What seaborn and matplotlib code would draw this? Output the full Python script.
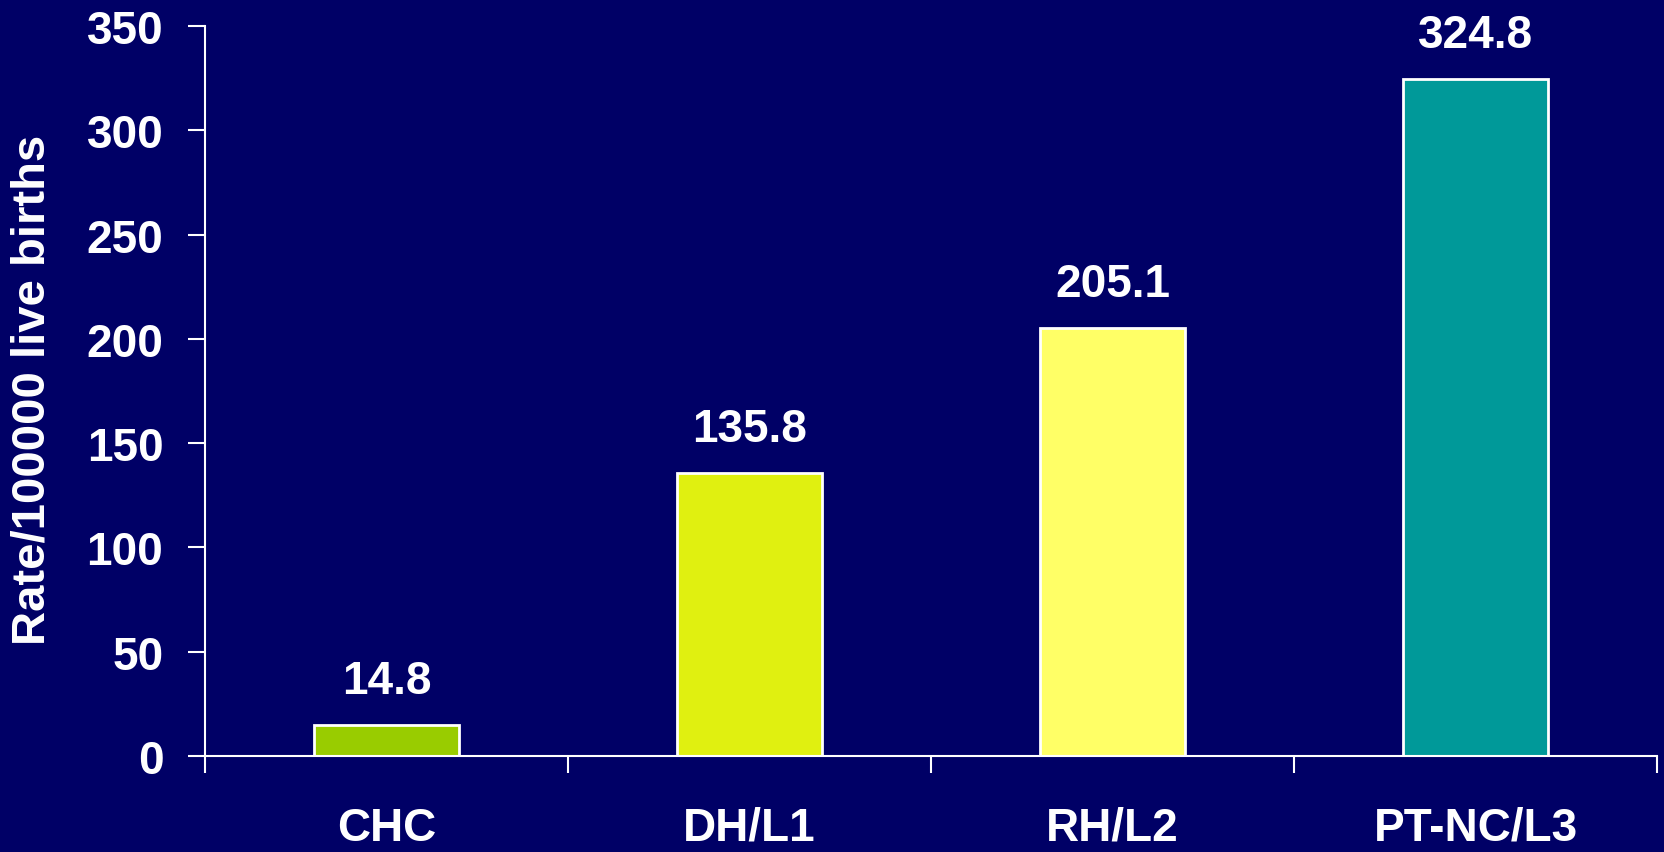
import pandas as pd
import matplotlib.pyplot as plt
import seaborn as sns
from matplotlib.ticker import FixedLocator

categories = ["CHC", "DH/L1", "RH/L2", "PT-NC/L3"]
rates = [14.8, 135.8, 205.1, 324.8]
colors = ["#99CC00", "#E0F010", "#FFFF66", "#009999"]

bg = "#000066"

sns.set_theme(style="white")
plt.rcParams['font.family'] = ['Liberation Sans', 'DejaVu Sans']
plt.rcParams['font.weight'] = 'bold'

df = pd.DataFrame({"Area": categories, "Rate": rates})

fig = plt.figure(figsize=(16.65, 8.53), dpi=100, facecolor=bg)
ax = fig.add_axes([205 / 1665, 1 - 757 / 853, 1452 / 1665, 730 / 853])
ax.set_facecolor(bg)

sns.barplot(data=df, x="Area", y="Rate", hue="Area", palette=colors,
            width=0.4, edgecolor="white", linewidth=2, legend=False, ax=ax,
            saturation=1)

ax.set_xlim(-0.5, 3.5)
ax.set_ylim(0, 350)
ax.set_yticks(range(0, 351, 50))

# value labels above bars
for i, v in enumerate(rates):
    ax.annotate(f"{v}", (i, v), xytext=(0, 23), textcoords="offset points",
                ha="center", va="baseline", color="white", fontsize=33,
                fontweight="bold")

for s in ["top", "right"]:
    ax.spines[s].set_visible(False)
for s in ["left", "bottom"]:
    ax.spines[s].set_color("white")
    ax.spines[s].set_linewidth(1.5)

ax.xaxis.set_minor_locator(FixedLocator([-0.5, 0.5, 1.5, 2.5, 3.5]))
ax.tick_params(axis="x", which="major", length=0, pad=36, labelsize=33,
               labelcolor="white")
ax.tick_params(axis="x", which="minor", bottom=True, length=12, width=1.5,
               color="white", direction="out")
ax.tick_params(axis="y", left=True, length=12, width=1.5, color="white",
               pad=18, labelsize=33, labelcolor="white")

ax.set_xlabel("")
ax.set_ylabel("Rate/100000 live births", color="white", fontsize=34,
              fontweight="bold", va="center")
ax.yaxis.set_label_coords(-172 / 1452, 0.503)

fig.savefig("out.png", dpi=100, facecolor=bg)
